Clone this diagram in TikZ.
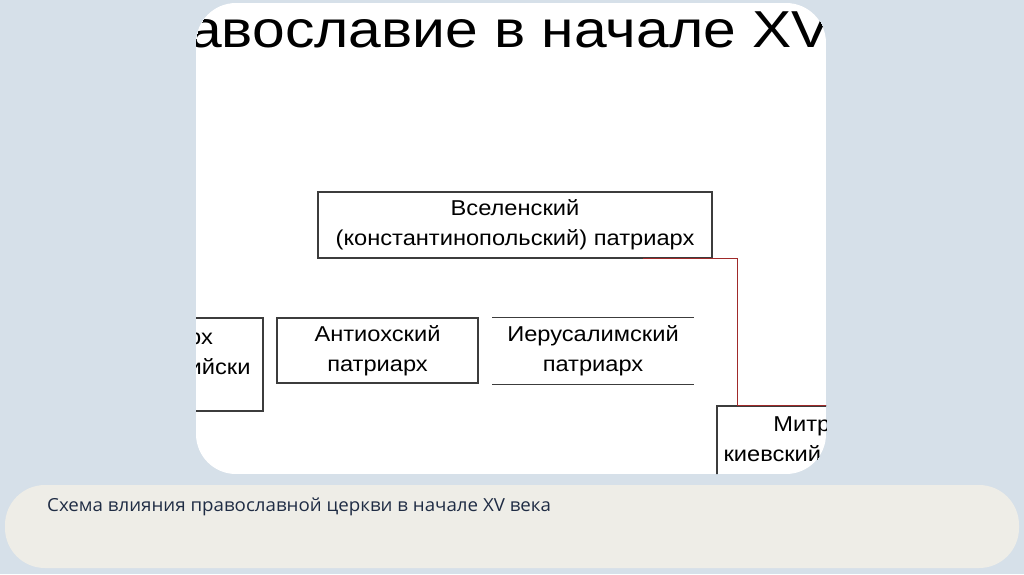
\documentclass[tikz,border=0pt]{standalone}
\usepackage{fontspec}
\setmainfont{Liberation Sans}
\newfontfamily\schemefont[FakeStretch=1.1]{Liberation Sans}
\newfontfamily\titlefont[FakeStretch=1.13]{Liberation Sans}
\newfontfamily\notefont[FakeStretch=1.04]{Open Sans}
\usepackage{tikz}

\definecolor{slidebg}{HTML}{D6E0E9}
\definecolor{notebg}{HTML}{EEEDE7}
\definecolor{notetext}{HTML}{1F2C44}
\definecolor{boxline}{HTML}{3C3C3C}
\definecolor{linkred}{HTML}{A02A2A}

\begin{document}
\begin{tikzpicture}[x=1pt,y=-1pt,
    patr/.style={draw=boxline, line width=1.3pt, inner sep=0pt, align=center,
        font=\schemefont\fontsize{21.5}{30}\selectfont},
    link/.style={draw=linkred, line width=1pt}]
    \fill[slidebg] (0,0) rectangle (1024,574);

    \begin{scope}
        \clip[rounded corners=40] (196,3) rectangle (826,474);
        \fill[white] (196,3) rectangle (826,474);

        \node[anchor=base west, inner sep=0pt, font=\titlefont\fontsize{52}{60}\selectfont] (title) at (114,47) {Православие в начале XV века};

        \node[patr, minimum width=394, minimum height=66] (vsel) at (515,225) {Вселенский\\(константинопольский) патриарх};
        \node[patr, minimum width=205, minimum height=93] (alex) at (160.5,364.5) {};
        \node[align=center, font=\schemefont\fontsize{21.5}{30}\selectfont] (alexname) at (160.5,354) {Патриарх\\Александрийски};
        \node[patr, minimum width=201, minimum height=65] (antio) at (377.5,350.5) {Антиохский\\патриарх};
        \node[patr, draw=none, minimum width=200, minimum height=66] (ierus) at (593,351) {Иерусалимский\\патриарх};
        \draw[boxline, line width=1.3pt] (ierus.north west) -- (ierus.north east);
        \draw[boxline, line width=1.3pt] (ierus.south west) -- (ierus.south east);
        \node[patr, minimum width=246, minimum height=71] (mitr) at (840,441.5) {Митрополит\\киевский и всея Руси};

        \draw[link] ([xshift=-70pt]vsel.south east) -| ([xshift=21pt]mitr.north west) -- (mitr.north east);
    \end{scope}

    \fill[notebg, rounded corners=40] (5,485) rectangle (1019,568);
    \node[anchor=base west, inner sep=0pt, text=notetext, font=\notefont\fontsize{18}{21}\selectfont] (note) at (47,511) {Схема влияния православной церкви в начале XV века};
\end{tikzpicture}
\end{document}
